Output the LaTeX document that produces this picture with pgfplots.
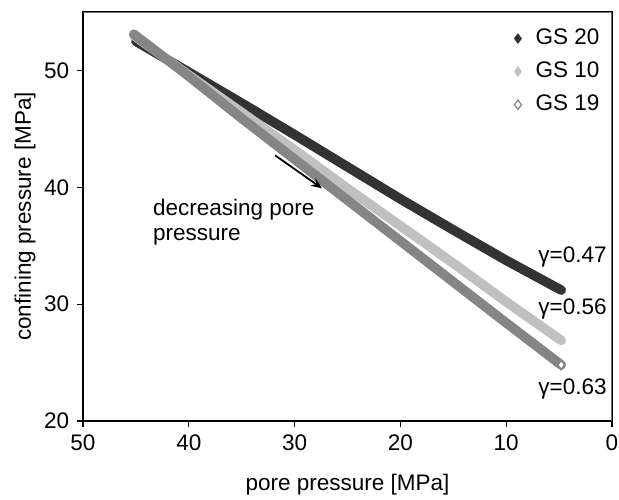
\documentclass[border=0pt]{standalone}
\usepackage{fontspec}
\setmainfont{Liberation Sans}
\usepackage{pgfplots}
\pgfplotsset{compat=1.18}
\usetikzlibrary{arrows.meta}
\definecolor{gsdark}{HTML}{333333}
\definecolor{gslight}{HTML}{C0C0C0}
\definecolor{gsmid}{HTML}{858585}
\definecolor{framegray}{HTML}{707070}

\begin{document}
\fontsize{11.25}{13.5}\selectfont
\begin{tikzpicture}
\begin{axis}[
  scale only axis, width=264.5pt, height=204.5pt,
  x dir=reverse, xmin=0, xmax=50, ymin=20, ymax=55,
  xtick={0,10,20,30,40,50}, ytick={20,30,40,50},
  tick align=outside, xtick pos=left, ytick pos=left,
  major tick length=3pt, tick style={black, line width=0.6pt},
  axis line style={black, line width=0.6pt},
  /pgf/number format/assume math mode=true,
  tick label style={font=\fontsize{11.25}{13.5}\selectfont},
  label style={font=\fontsize{11.25}{13.5}\selectfont},
  xlabel={pore pressure [MPa]}, ylabel={confining pressure [MPa]},
  xlabel style={at={(axis description cs:0.5,-0.1711)}, anchor=base},
  ylabel style={at={(axis description cs:-0.1096,0.5)}, anchor=center},
  legend cell align=left,
  legend style={draw=none, fill=none, at={(axis description cs:0.801,0.979)},
    anchor=north west, row sep=3pt, font=\fontsize{11.25}{13.5}\selectfont},
]
% GS 20
\addplot[gsdark, line width=4.8pt, line cap=round,
  legend image code/.code={\draw[gsdark, line width=0.4pt, mark=diamond*, mark size=2.33pt] plot coordinates {(0.1cm,0cm)};
    \path (0.1cm,0cm) ++(4.4pt,0pt);}]
  coordinates {(45,52.5)(40,49.85)(35,47.2)(30,44.5)(25,41.75)(20,39.0)(15,36.35)(10,33.75)(4.8,31.2)};
\addlegendentry{GS 20}
% GS 10
\addplot[gslight, line width=4.8pt, line cap=round,
  legend image code/.code={\draw[gslight, line width=0.4pt, mark=diamond*, mark size=2.33pt] plot coordinates {(0.1cm,0cm)};
    \path (0.1cm,0cm) ++(4.4pt,0pt);}]
  coordinates {(45.2,53.0)(40,49.6)(35,46.4)(30,43.2)(25,39.9)(20,36.7)(15,33.5)(10,30.2)(4.8,26.9)};
\addlegendentry{GS 10}
% GS 19
\addplot[gsmid, line width=4.8pt, line cap=round,
  legend image code/.code={\draw[gsmid, fill=white, line width=0.6pt, mark=diamond*, mark size=2.33pt] plot coordinates {(0.1cm,0cm)};
    \path (0.1cm,0cm) ++(4.4pt,0pt);}]
  coordinates {(45.2,53.1)(40,49.5)(35,45.9)(30,42.4)(25,38.9)(20,35.4)(15,31.9)(10,28.4)(4.8,24.8)};
\addlegendentry{GS 19}
% open end marker of GS 19
\addplot[only marks, mark=diamond*, mark size=2.33pt,
  mark options={fill=white, draw=gsmid, line width=0.8pt}, forget plot]
  coordinates {(4.8,24.8)};

\draw[framegray, line width=0.6pt] (axis description cs:0,1) -- (axis description cs:1,1) -- (axis description cs:1,0);

\node[anchor=base west, inner sep=0pt] at (axis cs:43.41,37.61) {decreasing pore};
\node[anchor=base west, inner sep=0pt] at (axis cs:43.41,35.47) {pressure};
\draw[-{Stealth[length=5.5pt,width=4.5pt]}, line width=0.9pt] (axis cs:31.85,42.74) -- (axis cs:27.41,39.91);

\node[anchor=base east, inner sep=0pt] at (axis cs:0.47,33.59) {γ=0.47};
\node[anchor=base east, inner sep=0pt] at (axis cs:0.47,29.12) {γ=0.56};
\node[anchor=base east, inner sep=0pt] at (axis cs:0.47,22.31) {γ=0.63};
\end{axis}
\pgfresetboundingbox
\path ([shift={(-41.5pt,-39pt)}]current axis.south west) rectangle ++(309.5pt,249.5pt);
\end{tikzpicture}
\end{document}
